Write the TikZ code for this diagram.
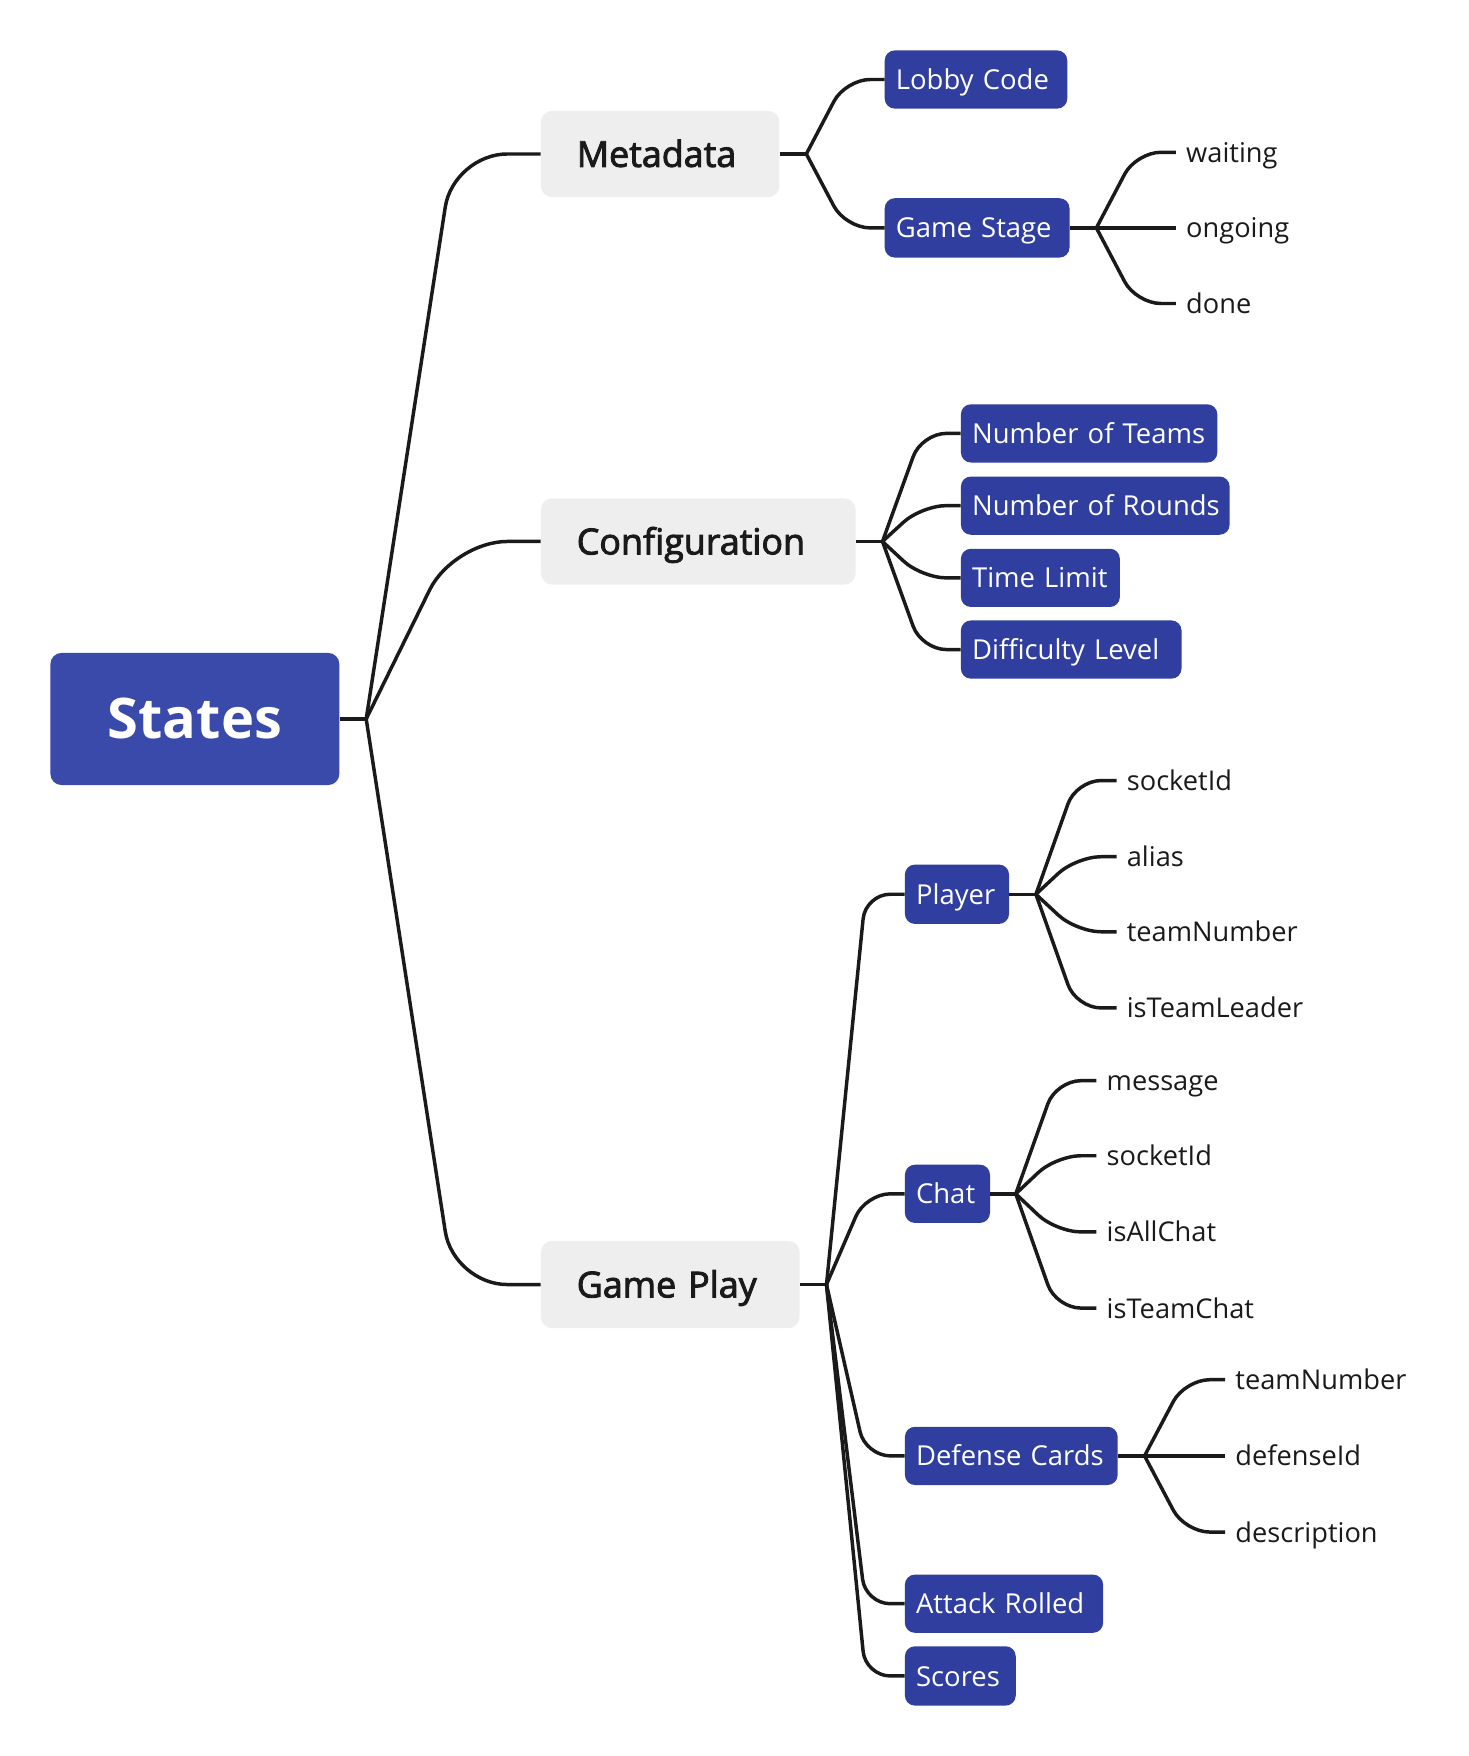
\documentclass[tikz,border=0pt]{standalone}
\usepackage{fontspec}
\setmainfont{Open Sans}
\IfFontExistsTF{Open Sans SemiBold}{\newfontfamily\semib{Open Sans SemiBold}}{\newfontfamily\semib{Open Sans}[FakeBold=2.5]}
\usetikzlibrary{calc}
\definecolor{rootblue}{HTML}{3A4AAB}
\definecolor{nodeblue}{HTML}{303F9F}
\definecolor{graybox}{HTML}{EEEEEE}
\definecolor{ink}{HTML}{1A1A1A}
\newcommand\mmlink[3][22]{\draw[conn, rounded corners=#1pt] (#2) -- ($(#2 |- #3.west)!0.5!(#3.west)$) -- (#3.west);}
\begin{document}
\begin{tikzpicture}[x=1pt,y=-1pt,
  conn/.style={draw=ink, line width=3.1pt},
  rootbox/.style={fill=rootblue, rounded corners=10pt, text=white,
    font=\fontsize{50}{58}\selectfont\bfseries, inner sep=0pt, align=center},
  mainbox/.style={fill=graybox, rounded corners=10pt, text=ink,
    font=\semib\fontsize{32}{38}\selectfont, inner xsep=32pt, inner ysep=0pt,
    align=left, text height=27pt, text depth=4pt, minimum height=77pt},
  bluebox/.style={fill=nodeblue, rounded corners=9pt, text=white,
    font=\fontsize{24.5}{29}\selectfont, inner xsep=10pt, inner ysep=0pt,
    align=left, text height=21pt, text depth=3pt, minimum height=52pt},
  leaf/.style={anchor=west, inner xsep=9pt, inner ysep=0pt, text=ink,
    font=\fontsize{24.3}{28}\selectfont, text height=20pt, text depth=2pt}
]
\useasboundingbox (0,0) rectangle (1311,1568);

% root
\node[rootbox, minimum width=258pt, minimum height=118pt] (root) at (174,642) {States};
\coordinate (jS) at (327,642);

% main topics
\node[mainbox, text width=149pt] (meta) at (589.5,137.5) {\mbox{Metadata}};
\node[mainbox, text width=217pt] (conf) at (623.5,483.5) {\mbox{Configuration}};
\node[mainbox, text width=167pt, minimum height=78pt] (gp) at (598.5,1147) {\mbox{Game Play}};
\coordinate (jM) at (720,137.5);
\coordinate (jC) at (788,483.5);
\coordinate (jG) at (738,1147);

% metadata children
\node[bluebox, text width=143pt] (lobby) at (871.5,71) {\mbox{Lobby Code}};
\node[bluebox, text width=145pt, minimum height=53pt] (stage) at (872.5,203.5) {\mbox{Game Stage}};
\coordinate (jGS) at (979,203.5);
\node[leaf] (waiting) at (1050,136) {waiting};
\node[leaf] (ongoing) at (1050,203.5) {ongoing};
\node[leaf] (done) at (1050,271) {done};

% configuration children
\node[bluebox, text width=209pt] (nteams) at (972.5,387) {\mbox{Number of Teams}};
\node[bluebox, text width=220pt] (nrounds) at (978,451.5) {\mbox{Number of Rounds}};
\node[bluebox, text width=122pt] (tlimit) at (929,516) {\mbox{Time Limit}};
\node[bluebox, text width=177pt] (diff) at (956.5,580) {\mbox{Difficulty Level}};

% game play children
\node[bluebox, text width=73pt, minimum height=53pt] (player) at (854.5,798.5) {\mbox{Player}};
\coordinate (jP) at (925,798.5);
\node[leaf] (p1) at (997,697) {socketId};
\node[leaf] (p2) at (997,765) {alias};
\node[leaf] (p3) at (997,832) {teamNumber};
\node[leaf] (p4) at (997,900) {isTeamLeader};

\node[bluebox, text width=56pt] (chat) at (846,1066) {\mbox{Chat}};
\coordinate (jCh) at (907,1066);
\node[leaf] (c1) at (979,965) {message};
\node[leaf] (c2) at (979,1032) {socketId};
\node[leaf] (c3) at (979,1100) {isAllChat};
\node[leaf] (c4) at (979,1168) {isTeamChat};

\node[bluebox, text width=170pt] (dc) at (903,1300) {\mbox{Defense Cards}};
\coordinate (jD) at (1022,1300);
\node[leaf] (d1) at (1094,1232) {teamNumber};
\node[leaf] (d2) at (1094,1300) {defenseId};
\node[leaf] (d3) at (1094,1368) {description};

\node[bluebox, text width=157pt] (attack) at (896.5,1432) {\mbox{Attack Rolled}};
\node[bluebox, text width=79pt, minimum height=53pt] (scores) at (857.5,1496.5) {\mbox{Scores}};

% connectors: parent stubs
\draw[conn] (root.east) -- (jS);
\draw[conn] (meta.east) -- (jM);
\draw[conn] (conf.east) -- (jC);
\draw[conn] (gp.east) -- (jG);
\draw[conn] (stage.east) -- (jGS);
\draw[conn] (player.east) -- (jP);
\draw[conn] (chat.east) -- (jCh);
\draw[conn] (dc.east) -- (jD);

% branches
\mmlink[48]{jS}{meta}
\mmlink[48]{jS}{conf}
\mmlink[48]{jS}{gp}

\mmlink{jM}{lobby}
\mmlink{jM}{stage}
\mmlink{jGS}{waiting}
\mmlink{jGS}{ongoing}
\mmlink{jGS}{done}

\mmlink{jC}{nteams}
\mmlink{jC}{nrounds}
\mmlink{jC}{tlimit}
\mmlink{jC}{diff}

\mmlink{jG}{player}
\mmlink{jG}{chat}
\mmlink{jG}{dc}
\mmlink{jG}{attack}
\mmlink{jG}{scores}

\mmlink{jP}{p1}
\mmlink{jP}{p2}
\mmlink{jP}{p3}
\mmlink{jP}{p4}

\mmlink{jCh}{c1}
\mmlink{jCh}{c2}
\mmlink{jCh}{c3}
\mmlink{jCh}{c4}

\mmlink{jD}{d1}
\mmlink{jD}{d2}
\mmlink{jD}{d3}
\end{tikzpicture}
\end{document}
